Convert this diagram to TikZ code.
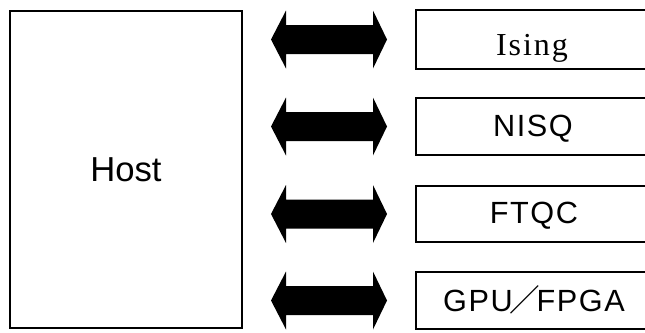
\documentclass[tikz,border=0pt]{standalone}
\usepackage{fontspec}
\setmainfont{Liberation Sans}
\newfontfamily\labelsans[LetterSpace=5]{Liberation Sans}
\newfontfamily\labelserif[LetterSpace=6]{Liberation Serif}
\newfontfamily\cjk{Noto Sans CJK JP}
\begin{document}
\begin{tikzpicture}[x=0.75pt,y=-0.75pt,
  lbl/.style={font=\labelsans\fontsize{23}{26}\selectfont,inner sep=0pt,anchor=base},
  frame/.style={line width=1.5pt}]
\useasboundingbox (0,0) rectangle (645,332);
\begin{scope}
\clip (0,0) rectangle (645,332);
% host block
\draw[frame] (10,11) rectangle (242,328);
\node[lbl,font=\fontsize{26}{30}\selectfont] (host) at (126,181.7) {Host};
% target blocks, running off the right edge
\foreach \t/\b/\n in {10/69/ising,98/155/nisq,186/242/ftqc,272/329/gpu}{
  \draw[frame] (416,\t) rectangle (680,\b);
}
\node[lbl,font=\labelserif\fontsize{24}{28}\selectfont] (tIsing) at (532,55) {Ising};
\node[lbl] (tNisq) at (533,136) {NISQ};
\node[lbl] (tFtqc) at (534,223.3) {FTQC};
\node[lbl] (tGpu) at (534,311) {GPU\kern-2.5pt{\cjk ／}\kern-2.5pt FPGA};
% two-headed block arrows between host and targets
\foreach \c in {39.5,126.5,214,300.5}{
  \coordinate (aL) at (271,\c);
  \fill (aL) -- ++(15,-29) -- ++(0,14.5) -- ++(87,0) -- ++(0,-14.5)
    -- ++(14,29) -- ++(-14,29) -- ++(0,-14.5) -- ++(-87,0) -- ++(0,14.5) -- cycle;
}
\end{scope}
\end{tikzpicture}
\end{document}
